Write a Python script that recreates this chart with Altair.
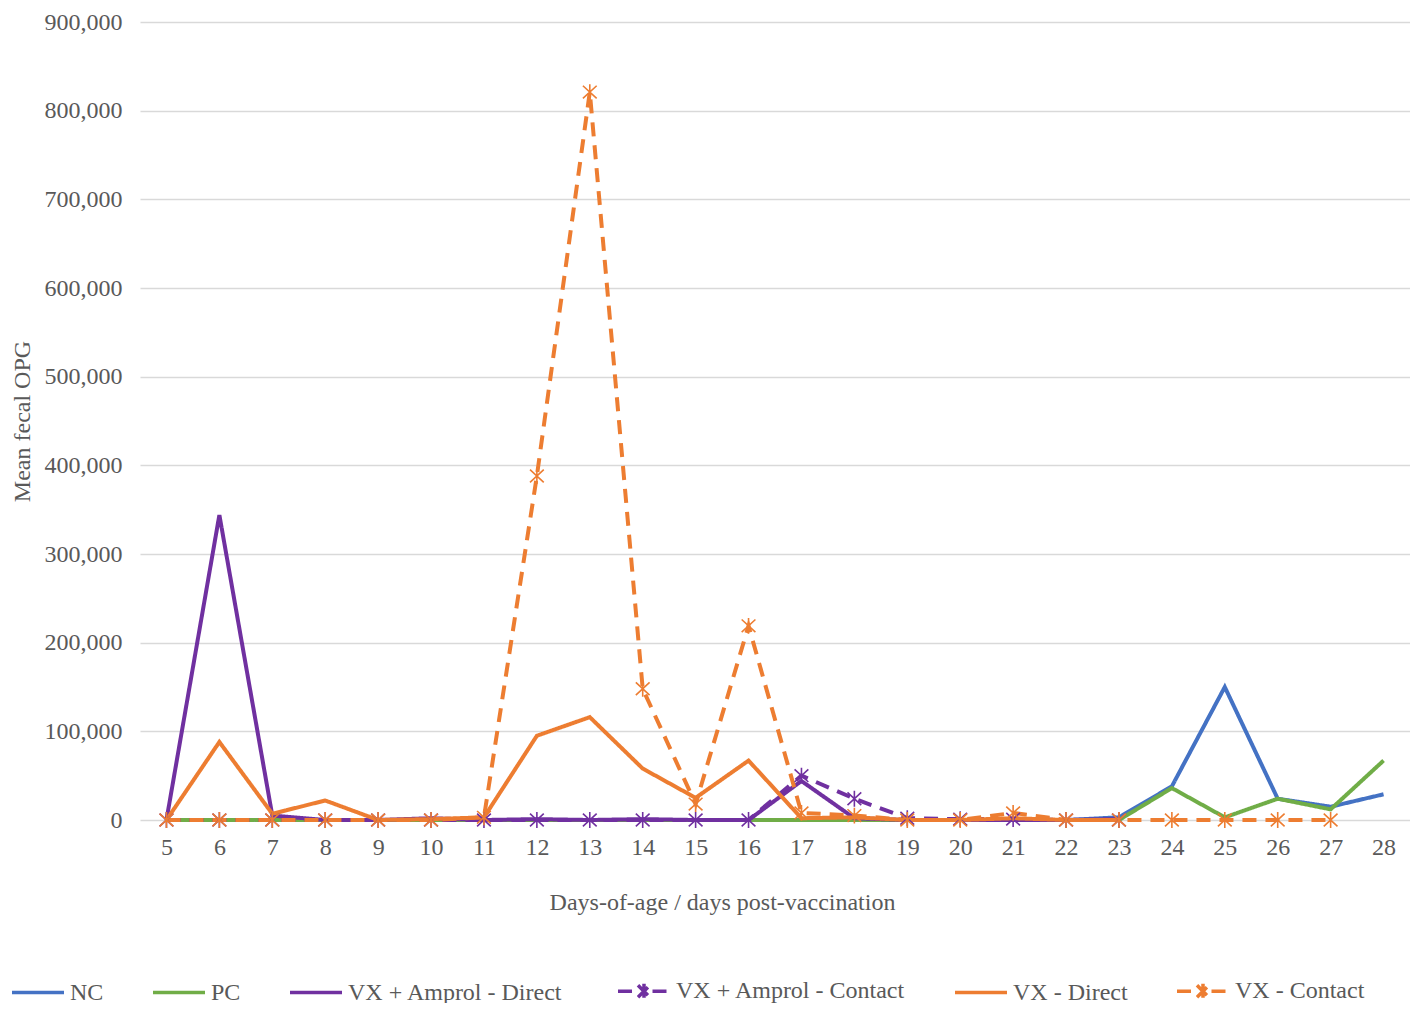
import altair as alt
import pandas as pd

days = list(range(5, 29))

series_names = ["NC", "PC", "VX + Amprol  - Direct", "VX + Amprol - Contact", "VX - Direct", "VX - Contact"]
series_colors = ["#4472C4", "#70AD47", "#7030A0", "#7030A0", "#ED7D31", "#ED7D31"]

nc = [0, 0, 0, 0, 0, 0, 0, 0, 0, 0, 0, 0, 0, 0, 0, 0, 0, 0, 3000, 38000, 150000, 24000, 15000, 29000]
pc = [0, 0, 0, 0, 0, 0, 0, 0, 0, 0, 0, 0, 0, 0, 0, 0, 0, 0, 0, 36000, 3000, 24000, 12000, 67000]
vxa_direct = [0, 344000, 5000, 0, 0, 2000, 0, 1000, 0, 1000, 0, 0, 44000, 2000, 0, 0, 0, 0, 1000,
              None, None, None, None, None]
vxa_contact = [0, 0, 0, 0, 0, 0, 0, 0, 0, 0, 0, 0, 50000, 24000, 2000, 1000, 1000, 0, 0,
               None, None, None, None, None]
vx_direct = [0, 88000, 7000, 22000, 0, 1000, 3000, 95000, 116000, 58000, 25000, 67000, 2000, 3000,
             0, 0, 2000, 0, 0, None, None, None, None, None]
vx_contact = [0, 0, 0, 0, 0, 0, 3000, 388000, 821000, 148000, 18000, 219000, 8000, 5000, 0, 0,
              8000, 0, 0, 0, 0, 0, 0, None]

y_ticks = [0, 100000, 200000, 300000, 400000, 500000, 600000, 700000, 800000, 900000]

all_series = [nc, pc, vxa_direct, vxa_contact, vx_direct, vx_contact]
rows = []
for name, vals in zip(series_names, all_series):
    for d, v in zip(days, vals):
        if v is not None:
            rows.append({"series": name, "day": d, "value": v})
df = pd.DataFrame(rows)

contact_names = [series_names[3], series_names[5]]

STAR = "M0,-1L0,1M-0.87,-0.8L0.87,0.8M-0.87,0.8L0.87,-0.8"
# legend symbols: unit = 10px, symbol centre sits 10px into the entry
LINE_SYM = "M-1,0L4.2,0"
CONTACT_SYM = ("M-1,0L0.75,0M2.45,0L4.2,0M1.6,-0.75L1.6,0.75"
               "M1.0,-0.6L2.2,0.6M1.0,0.6L2.2,-0.6")
legend_shapes = [LINE_SYM, LINE_SYM, LINE_SYM, CONTACT_SYM, LINE_SYM, CONTACT_SYM]
dashes = [[1, 0], [1, 0], [1, 0], [14, 9], [1, 0], [14, 9]]

FONT = "Liberation Serif"
GREY = "#595959"

x_enc = alt.X(
    "day:O",
    scale=alt.Scale(type="point", padding=0.5),
    axis=alt.Axis(
        title="Days-of-age  /  days post-vaccination",
        labelAngle=0, ticks=False, domain=False, grid=False,
        labelPadding=15, titleX=582, titleY=82, titleBaseline="middle", titleAlign="center",
    ),
)
y_enc = alt.Y(
    "value:Q",
    scale=alt.Scale(domain=[0, 900000], nice=False),
    axis=alt.Axis(
        title="Mean fecal  OPG", values=y_ticks, format=",.0f",
        ticks=False, domain=False, labelPadding=18,
        titleX=-118, titleY=399, titleAngle=270, titleBaseline="middle", titleAlign="center",
    ),
)
color_scale = alt.Scale(domain=series_names, range=series_colors)

legend_cfg = alt.Legend(
    orient="none", legendX=-130, legendY=957, direction="horizontal",
    symbolSize=400, symbolStrokeWidth=3.5, symbolOpacity=1,
    labelFont=FONT, labelFontSize=24, labelColor=GREY, labelOffset=36, labelLimit=0,
    columnPadding=42, padding=0, title=None,
)
legend_layer = alt.Chart(df).mark_point(filled=False, opacity=0).encode(
    x=x_enc,
    y=y_enc,
    color=alt.Color("series:N", scale=color_scale, legend=legend_cfg, title=None),
    shape=alt.Shape("series:N", scale=alt.Scale(domain=series_names, range=legend_shapes),
                    legend=legend_cfg, title=None),
)

lines = alt.Chart(df).mark_line(strokeWidth=4).encode(
    x=x_enc,
    y=y_enc,
    color=alt.Color("series:N", scale=color_scale, legend=None),
    strokeDash=alt.StrokeDash("series:N", scale=alt.Scale(domain=series_names, range=dashes), legend=None),
    detail="series:N",
)

stars = alt.Chart(df).transform_filter(
    alt.FieldOneOfPredicate(field="series", oneOf=contact_names)
).mark_point(shape=STAR, filled=False, size=250, strokeWidth=1.6, opacity=1).encode(
    x=x_enc,
    y=y_enc,
    color=alt.Color("series:N", scale=color_scale, legend=None),
)

chart = alt.layer(legend_layer, lines, stars).properties(
    width=1270, height=798,
    autosize=alt.AutoSizeParams(type="none"),
    padding={"left": 132, "top": 14, "right": 0, "bottom": 183},
).configure_view(stroke=None).configure_axis(
    labelFont=FONT, labelFontSize=24, labelColor=GREY,
    titleFont=FONT, titleFontSize=24, titleColor=GREY, titleFontWeight="normal",
    gridColor="#d9d9d9", gridWidth=1.3,
)

chart.save("out.html", embed_options={"renderer": "svg", "actions": False})
